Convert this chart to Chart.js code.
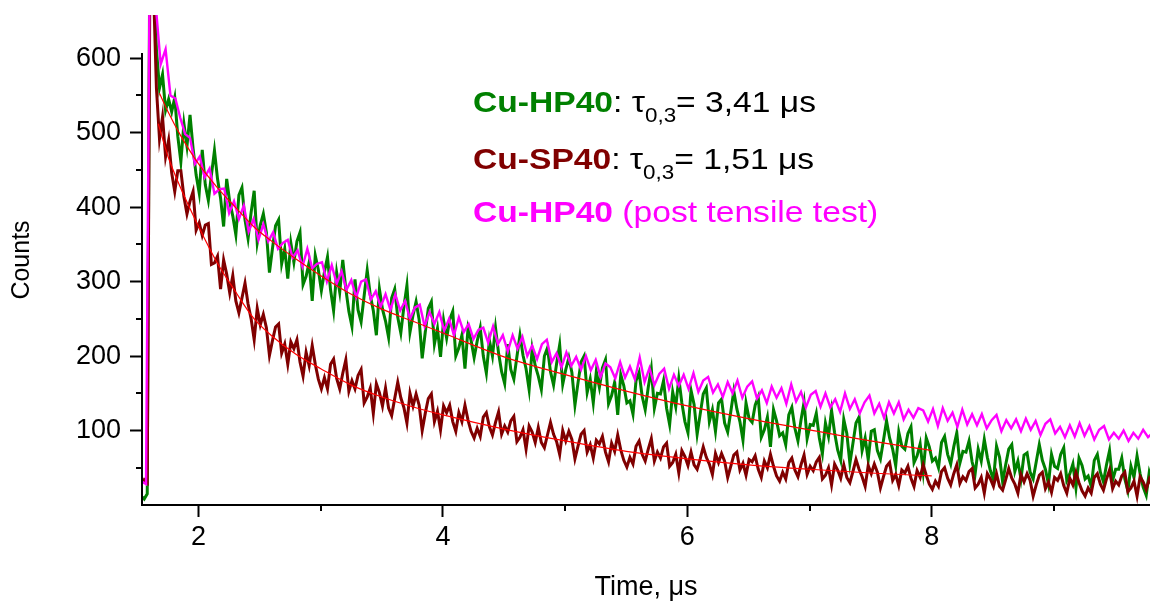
<!DOCTYPE html>
<html>
<head>
<meta charset="utf-8">
<script src="https://cdn.jsdelivr.net/npm/chart.js@4.4.1/dist/chart.umd.min.js"></script>
<style>
  html, body { margin: 0; padding: 0; background: #fff; }
  #chart { display: block; }
</style>
</head>
<body>
<canvas id="chart" width="1150" height="604"></canvas>
<script>
// time grid of the two dense traces (µs)
const tempoFino = [
  1.53,1.555,1.58,1.605,1.63,1.655,1.68,1.705,1.73,1.755,
  1.78,1.805,1.83,1.855,1.88,1.905,1.93,1.955,1.98,2.005,
  2.03,2.055,2.08,2.105,2.13,2.155,2.18,2.205,2.23,2.255,
  2.28,2.305,2.33,2.355,2.38,2.405,2.43,2.455,2.48,2.505,
  2.53,2.555,2.58,2.605,2.63,2.655,2.68,2.705,2.73,2.755,
  2.78,2.805,2.83,2.855,2.88,2.905,2.93,2.955,2.98,3.005,
  3.03,3.055,3.08,3.105,3.13,3.155,3.18,3.205,3.23,3.255,
  3.28,3.305,3.33,3.355,3.38,3.405,3.43,3.455,3.48,3.505,
  3.53,3.555,3.58,3.605,3.63,3.655,3.68,3.705,3.73,3.755,
  3.78,3.805,3.83,3.855,3.88,3.905,3.93,3.955,3.98,4.005,
  4.03,4.055,4.08,4.105,4.13,4.155,4.18,4.205,4.23,4.255,
  4.28,4.305,4.33,4.355,4.38,4.405,4.43,4.455,4.48,4.505,
  4.53,4.555,4.58,4.605,4.63,4.655,4.68,4.705,4.73,4.755,
  4.78,4.805,4.83,4.855,4.88,4.905,4.93,4.955,4.98,5.005,
  5.03,5.055,5.08,5.105,5.13,5.155,5.18,5.205,5.23,5.255,
  5.28,5.305,5.33,5.355,5.38,5.405,5.43,5.455,5.48,5.505,
  5.53,5.555,5.58,5.605,5.63,5.655,5.68,5.705,5.73,5.755,
  5.78,5.805,5.83,5.855,5.88,5.905,5.93,5.955,5.98,6.005,
  6.03,6.055,6.08,6.105,6.13,6.155,6.18,6.205,6.23,6.255,
  6.28,6.305,6.33,6.355,6.38,6.405,6.43,6.455,6.48,6.505,
  6.53,6.555,6.58,6.605,6.63,6.655,6.68,6.705,6.73,6.755,
  6.78,6.805,6.83,6.855,6.88,6.905,6.93,6.955,6.98,7.005,
  7.03,7.055,7.08,7.105,7.13,7.155,7.18,7.205,7.23,7.255,
  7.28,7.305,7.33,7.355,7.38,7.405,7.43,7.455,7.48,7.505,
  7.53,7.555,7.58,7.605,7.63,7.655,7.68,7.705,7.73,7.755,
  7.78,7.805,7.83,7.855,7.88,7.905,7.93,7.955,7.98,8.005,
  8.03,8.055,8.08,8.105,8.13,8.155,8.18,8.205,8.23,8.255,
  8.28,8.305,8.33,8.355,8.38,8.405,8.43,8.455,8.48,8.505,
  8.53,8.555,8.58,8.605,8.63,8.655,8.68,8.705,8.73,8.755,
  8.78,8.805,8.83,8.855,8.88,8.905,8.93,8.955,8.98,9.005,
  9.03,9.055,9.08,9.105,9.13,9.155,9.18,9.205,9.23,9.255,
  9.28,9.305,9.33,9.355,9.38,9.405,9.43,9.455,9.48,9.505,
  9.53,9.555,9.58,9.605,9.63,9.655,9.68,9.705,9.73,9.755,
  9.78,9.805
];

// Cu-HP40 (green)
const contagensHP40 = [
  12,8,15,900,720,612,560,578,530,545,
  528,547,495,461,512,482,524,479,443,419,
  477,430,409,443,476,438,412,374,438,407,
  388,363,416,426,383,358,393,422,352,376,
  391,366,312,345,375,383,324,344,304,352,
  326,354,366,296,307,326,274,335,316,288,
  313,333,289,261,312,286,329,290,260,240,
  303,262,246,281,315,282,261,228,290,263,
  247,225,278,290,252,231,266,295,232,255,
  273,249,197,232,264,273,216,237,199,248,
  224,249,260,200,211,228,183,237,221,198,
  220,238,200,177,221,200,238,204,179,163,
  216,182,169,199,228,201,183,155,210,187,
  173,155,200,211,179,161,190,215,162,182,
  198,178,134,164,192,200,151,169,137,179,
  158,184,195,136,147,165,121,175,160,137,
  140,122,167,178,146,128,158,183,130,150,
  149,167,130,108,152,132,170,137,112,97,
  154,135,95,122,149,157,112,128,99,137,
  142,110,98,125,153,129,112,87,137,116,
  111,134,145,91,101,118,78,128,113,93,
  97,81,121,131,103,86,114,138,89,108,
  107,123,90,69,110,92,127,97,74,60,
  115,96,56,83,110,118,73,90,61,99,
  101,73,62,87,113,90,75,53,98,79,
  75,96,105,57,66,82,45,90,78,59,
  63,50,84,92,68,55,78,97,56,72,
  71,86,58,42,75,59,88,64,46,34,
  79,64,31,54,75,81,45,59,35,67,
  70,44,35,58,81,60,48,28,68,52,
  49,68,77,33,42,55,23,63,53,35,
  39,25,60,68,44,31,54,73,33,48,
  48,63,35,19,52,37,66,42,24,13,
  44,31
];

// Cu-SP40 (dark red)
const contagensSP40 = [
  28,34,30,820,700,560,492,521,468,490,
  446,421,449,449,414,391,408,421,369,379,
  362,376,378,323,325,334,290,329,310,285,
  308,274,258,278,298,270,250,222,264,242,
  256,238,201,221,239,243,204,216,189,219,
  210,222,192,173,205,187,214,189,169,156,
  171,156,189,196,170,156,177,195,153,167,
  156,174,182,137,145,157,123,163,151,133,
  157,130,120,143,165,144,131,110,150,133,
  149,134,100,123,143,149,112,126,101,133,
  124,134,112,99,124,112,134,114,99,90,
  103,92,118,124,105,94,111,125,95,106,
  98,113,119,85,91,101,75,106,98,84,
  104,84,77,94,111,95,85,68,100,86,
  99,88,62,79,95,100,71,81,63,87,
  82,92,71,58,83,72,94,74,60,51,
  64,55,79,86,68,59,75,89,59,71,
  63,78,83,52,57,68,43,73,65,53,
  71,54,48,62,78,64,55,41,69,57,
  69,59,37,52,67,71,47,56,40,61,
  58,66,48,37,59,50,68,52,39,32,
  44,35,57,63,47,38,54,67,41,52,
  46,58,64,35,40,50,27,55,47,36,
  54,37,30,45,61,48,38,25,53,42,
  55,44,23,38,52,57,33,41,26,47,
  43,52,36,25,46,37,54,40,28,21,
  32,25,45,50,36,27,42,54,29,38,
  33,45,49,23,28,37,16,42,35,25,
  42,25,20,34,49,36,28,16,41,31,
  42,33,12,27,40,44,22,31,17,37,
  33,42,26,16,36,27,44,30,19,12,
  23,16,37,42,28,20,35,47,22,32,
  27,39,44,18,23,32,12,38,31,21,
  35,26
];

// Cu-HP40 post tensile test (magenta), coarser grid
const tempoPos = [
  1.53,1.57,1.61,1.65,1.69,1.73,1.77,1.81,1.85,1.89,
  1.93,1.97,2.01,2.05,2.09,2.13,2.17,2.21,2.25,2.29,
  2.33,2.37,2.41,2.45,2.49,2.53,2.57,2.61,2.65,2.69,
  2.73,2.77,2.81,2.85,2.89,2.93,2.97,3.01,3.05,3.09,
  3.13,3.17,3.21,3.25,3.29,3.33,3.37,3.41,3.45,3.49,
  3.53,3.57,3.61,3.65,3.69,3.73,3.77,3.81,3.85,3.89,
  3.93,3.97,4.01,4.05,4.09,4.13,4.17,4.21,4.25,4.29,
  4.33,4.37,4.41,4.45,4.49,4.53,4.57,4.61,4.65,4.69,
  4.73,4.77,4.81,4.85,4.89,4.93,4.97,5.01,5.05,5.09,
  5.13,5.17,5.21,5.25,5.29,5.33,5.37,5.41,5.45,5.49,
  5.53,5.57,5.61,5.65,5.69,5.73,5.77,5.81,5.85,5.89,
  5.93,5.97,6.01,6.05,6.09,6.13,6.17,6.21,6.25,6.29,
  6.33,6.37,6.41,6.45,6.49,6.53,6.57,6.61,6.65,6.69,
  6.73,6.77,6.81,6.85,6.89,6.93,6.97,7.01,7.05,7.09,
  7.13,7.17,7.21,7.25,7.29,7.33,7.37,7.41,7.45,7.49,
  7.53,7.57,7.61,7.65,7.69,7.73,7.77,7.81,7.85,7.89,
  7.93,7.97,8.01,8.05,8.09,8.13,8.17,8.21,8.25,8.29,
  8.33,8.37,8.41,8.45,8.49,8.53,8.57,8.61,8.65,8.69,
  8.73,8.77,8.81,8.85,8.89,8.93,8.97,9.01,9.05,9.09,
  9.13,9.17,9.21,9.25,9.29,9.33,9.37,9.41,9.45,9.49,
  9.53,9.57,9.61,9.65,9.69,9.73,9.77,9.81
];
const contagensPos = [
  32,28,960,670,592,612,550,546,520,498,
  493,458,468,440,452,418,424,425,392,408,
  384,402,367,384,356,377,354,366,344,352,
  356,332,342,320,344,318,324,326,300,322,
  297,314,289,302,279,300,303,276,287,266,
  283,262,283,261,274,250,265,269,240,259,
  243,259,234,250,228,252,232,243,223,235,
  238,218,240,216,228,206,228,210,226,200,
  214,196,216,222,192,204,185,205,187,199,
  182,200,181,195,172,190,185,170,192,171,
  186,169,198,165,184,161,176,183,156,175,
  160,175,156,177,152,167,172,151,162,145,
  165,150,167,144,159,166,143,154,137,159,
  144,157,136,162,139,152,131,148,153,132,
  150,131,142,125,150,129,142,123,138,147,
  123,136,117,138,123,138,115,128,117,130,
  127,112,129,106,130,113,124,105,128,108,
  122,107,122,103,114,121,99,114,103,115,
  99,116,101,113,94,109,115,96,105,91,
  107,92,110,93,106,88,101,106,88,97,
  89,100,86,97,89,101,91,97
];

// fitted decay curves (thin red lines)
const tempoAjusteHP = [1.68,1.75,1.85,2.0,2.15,2.3,2.45,2.6,2.8,3.0,3.25,3.5,3.75,4.0,4.5,5.0,5.5,6.0,6.5,7.0,7.5,8.0];
const ajusteHP40 = [553,528,497,458,427,400,374,354,330,308,283,263,247,231,199,175,153,133,116,101,86,73];
const tempoAjusteSP = [1.67,1.75,1.85,2.0,2.15,2.3,2.45,2.6,2.8,3.0,3.25,3.5,3.75,4.0,4.5,5.0,5.5,6.0,6.5,7.0,7.5,8.0];
const ajusteSP40 = [512,468,427,374,326,287,251,227,202,183,161,145,132,121,102,86,72,62,54,48,43,39];

// axis ticks
const xMaiores = [2, 4, 6, 8];
const xMenores = [3, 5, 7, 9];
const yMaiores = [100, 200, 300, 400, 500, 600];
const yMenores = [50, 150, 250, 350, 450, 550];
const yTopoEixo = 607;

const fonte = "'Liberation Sans', Arial, sans-serif";

function pontos(tempos, valores) {
  return tempos.map((t, i) => ({ x: t, y: valores[i] }));
}

// texto da legenda dentro do grafico
const linhasTexto = [
  { y: 112, partes: [
    { t: 'Cu-HP40', bold: true, cor: '#008000' },
    { t: ': \u03c4', cor: '#000' },
    { t: '0,3', cor: '#000', sub: true },
    { t: '= 3,41 \u03bcs', cor: '#000' }
  ]},
  { y: 169, partes: [
    { t: 'Cu-SP40', bold: true, cor: '#800000' },
    { t: ': \u03c4', cor: '#000' },
    { t: '0,3', cor: '#000', sub: true },
    { t: '= 1,51 \u03bcs', cor: '#000' }
  ]},
  { y: 222, partes: [
    { t: 'Cu-HP40', bold: true, cor: '#FF00FF' },
    { t: ' (post tensile test)', cor: '#FF00FF' }
  ]}
];

const extras = {
  id: 'extras',
  afterDraw(chart) {
    const { ctx, chartArea, scales: { x, y } } = chart;
    ctx.save();
    ctx.strokeStyle = '#000';
    ctx.lineWidth = 2;
    ctx.beginPath();
    // y axis line stops a bit above 600
    const xa = Math.round(chartArea.left);
    ctx.moveTo(xa, y.getPixelForValue(yTopoEixo));
    ctx.lineTo(xa, chartArea.bottom + 1);
    // minor ticks
    xMenores.forEach(v => {
      const px = Math.round(x.getPixelForValue(v));
      ctx.moveTo(px, chartArea.bottom);
      ctx.lineTo(px, chartArea.bottom + 6);
    });
    yMenores.forEach(v => {
      const py = Math.round(y.getPixelForValue(v));
      ctx.moveTo(chartArea.left, py);
      ctx.lineTo(chartArea.left - 6, py);
    });
    ctx.stroke();

    // legend text, slightly stretched like the original
    const esc = 1.12;
    ctx.scale(esc, 1);
    ctx.textBaseline = 'alphabetic';
    linhasTexto.forEach(linha => {
      let px = 473 / esc;
      linha.partes.forEach(p => {
        ctx.font = (p.bold ? 'bold ' : '') + (p.sub ? '20px ' : '30px ') + fonte;
        ctx.fillStyle = p.cor;
        ctx.fillText(p.t, px, linha.y + (p.sub ? 10 : 0));
        px += ctx.measureText(p.t).width;
      });
    });
    ctx.restore();
  }
};

const ctx = document.getElementById('chart').getContext('2d');
new Chart(ctx, {
  type: 'line',
  data: {
    datasets: [
      { label: 'ajuste HP40', data: pontos(tempoAjusteHP, ajusteHP40), borderColor: '#FF0000', borderWidth: 1.2, cubicInterpolationMode: 'monotone', order: 0 },
      { label: 'ajuste SP40', data: pontos(tempoAjusteSP, ajusteSP40), borderColor: '#FF0000', borderWidth: 1.2, cubicInterpolationMode: 'monotone', order: 0 },
      { label: 'Cu-HP40 (post tensile test)', data: pontos(tempoPos, contagensPos), borderColor: '#FF00FF', borderWidth: 2.4, order: 1 },
      { label: 'Cu-SP40', data: pontos(tempoFino, contagensSP40), borderColor: '#800000', borderWidth: 3, order: 2 },
      { label: 'Cu-HP40', data: pontos(tempoFino, contagensHP40), borderColor: '#008000', borderWidth: 3, order: 3 }
    ]
  },
  options: {
    responsive: false,
    animation: false,
    devicePixelRatio: 1,
    layout: { padding: { top: 15, right: 0, bottom: 0, left: 0 } },
    elements: { point: { radius: 0 }, line: { tension: 0 } },
    plugins: { legend: { display: false }, tooltip: { enabled: false } },
    scales: {
      x: {
        type: 'linear',
        min: 1.537,
        max: 9.786,
        afterFit: s => { s.height = 99; s.paddingLeft = 0; s.paddingRight = 0; },
        afterBuildTicks: s => { s.ticks = xMaiores.map(v => ({ value: v })); },
        ticks: { font: { family: fonte, size: 27 }, color: '#000', padding: 4, maxRotation: 0 },
        grid: { drawOnChartArea: false, tickLength: 12, tickWidth: 2, tickColor: '#000', color: '#000' },
        border: { display: true, color: '#000', width: 2 },
        title: { display: true, text: 'Time, \u03bcs', color: '#000', font: { family: fonte, size: 27 }, padding: { top: 0, bottom: 0 } }
      },
      y: {
        min: 0,
        max: 658,
        afterFit: s => { s.width = 142; s.paddingTop = 0; s.paddingBottom = 0; },
        afterBuildTicks: s => { s.ticks = yMaiores.map(v => ({ value: v })); },
        ticks: { font: { family: fonte, size: 27 }, color: '#000', padding: 9 },
        grid: { drawOnChartArea: false, tickLength: 12, tickWidth: 2, tickColor: '#000', color: '#000' },
        border: { display: false },
        title: { display: true, text: 'Counts', color: '#000', font: { family: fonte, size: 25 }, padding: { top: 7, bottom: 0 } }
      }
    }
  },
  plugins: [extras]
});
</script>
</body>
</html>
